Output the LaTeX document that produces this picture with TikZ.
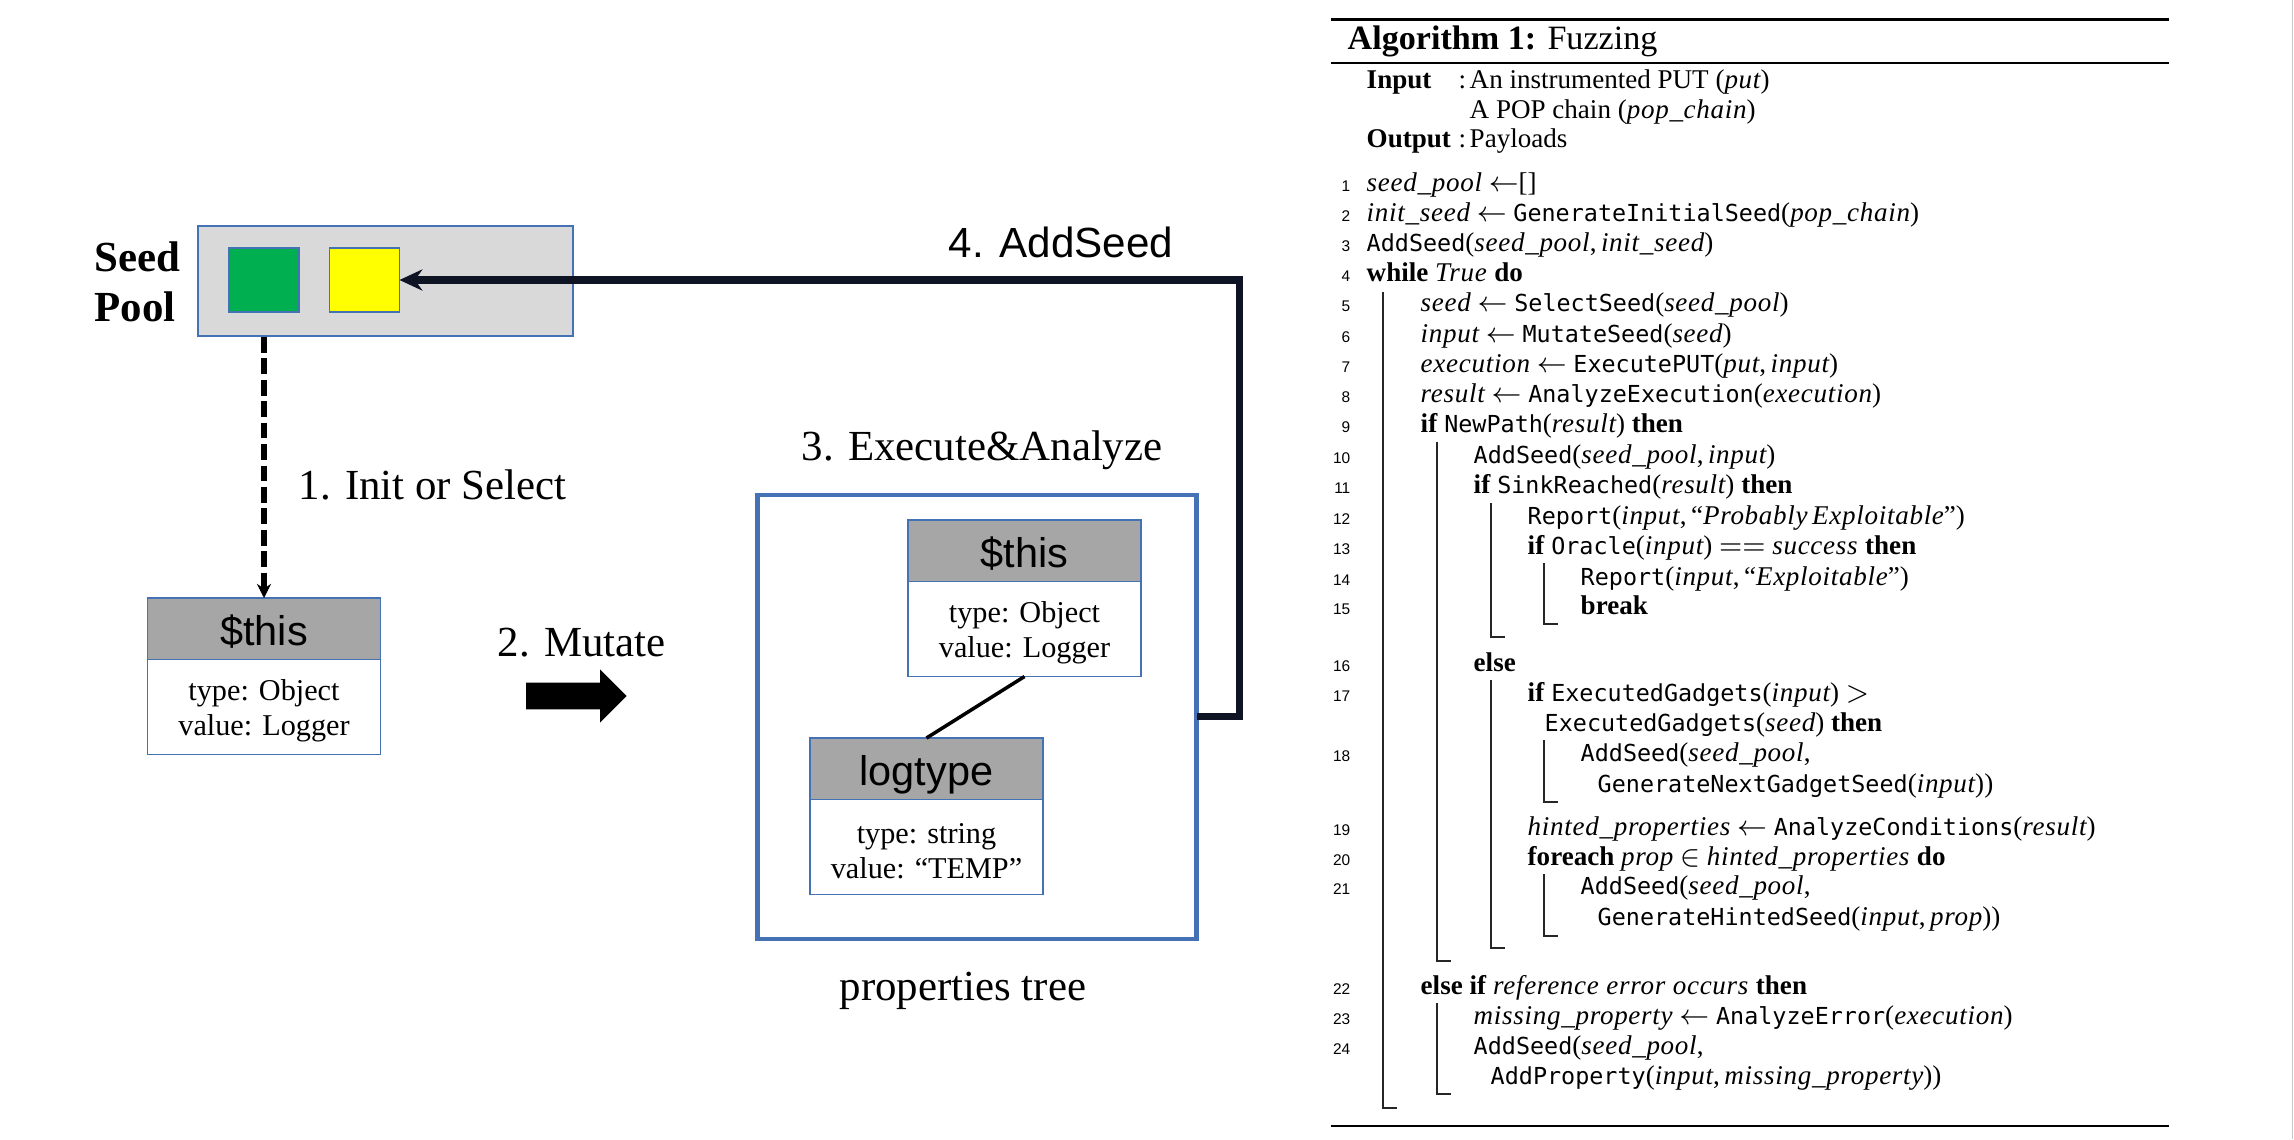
\documentclass[tikz,border=0pt]{standalone}
\usepackage{fontspec}
\setmainfont{Liberation Serif}
\newfontfamily\arialfont{Liberation Sans}
\newfontfamily\algttfamily{DejaVu Sans Mono}[Scale=0.865]
\newfontfamily\algitfamily{Liberation Serif}[LetterSpace=2.6]
\usetikzlibrary{positioning,arrows.meta}

\definecolor{boxblue}{RGB}{68,114,180}
\definecolor{hdrgray}{RGB}{166,166,166}
\definecolor{poolgray}{RGB}{217,217,217}
\definecolor{seedgreen}{RGB}{0,176,80}
\definecolor{seedyellow}{RGB}{255,255,0}
\definecolor{navy}{RGB}{14,20,36}

\newcommand{\algfont}{\fontsize{7.7}{9}\selectfont}
\newcommand{\algfn}[1]{{\algttfamily #1}}
\newcommand{\algkw}[1]{\textbf{#1}}
\newcommand{\algvar}[1]{{\algitfamily\itshape #1}}
\newcommand{\objtext}[2]{\rule{0pt}{8.1pt}#1\\#2}

\tikzstyle{poolbox} = [rectangle, minimum width=37.5mm, minimum height=11mm, fill=poolgray, draw=boxblue, line width=0.5pt]
\tikzstyle{seedbox} = [rectangle, minimum width=7mm, minimum height=6.4mm, draw=boxblue, line width=0.5pt, outer sep=0pt]
\tikzstyle{header} = [rectangle, minimum width=23.3mm, minimum height=6.15mm, fill=hdrgray, draw=boxblue, line width=0.5pt, outer sep=0pt, text height=9.3pt, text depth=0pt, font=\arialfont\fontsize{11.8}{14}\selectfont]
\tikzstyle{body} = [rectangle, minimum width=23.3mm, minimum height=9.5mm, fill=white, draw=boxblue, line width=0.5pt, outer sep=0pt, align=center, font=\fontsize{8.6}{9.7}\selectfont]
\tikzstyle{treebox} = [rectangle, minimum width=43.9mm, minimum height=44.4mm, draw=boxblue, line width=1.2pt, outer sep=0pt]
\tikzstyle{steptext} = [anchor=base west, inner sep=0pt, font=\fontsize{12.2}{14}\selectfont]
\tikzstyle{arrow} = [line width=2pt, draw=navy, -{Stealth[length=6.5pt,width=6pt]}]
\tikzstyle{dasharrow} = [line width=1.5pt, dash pattern=on 4.5pt off 1.6pt, -{Stealth[length=4pt,width=4pt]}]
\tikzstyle{treeline} = [line width=1pt]
\tikzstyle{algline} = [anchor=base west, inner sep=0pt, font=\algfont]
\tikzstyle{lineno} = [anchor=base east, inner sep=0pt, font=\arialfont\fontsize{4.4}{5}\selectfont]
\tikzstyle{algbar} = [line width=0.45pt, draw=black!85]

\begin{document}
\begin{tikzpicture}[x=0.1mm, y=-0.1mm]
		\useasboundingbox (0,0) rectangle (2294,1139);
		\draw [black!22, line width=0.45pt] (2292.5,0) -- (2292.5,1139);

		% seed pool
		\node (pool) [poolbox] at (385.5,281) {};
		\node (seed1) [seedbox, fill=seedgreen] at (264,280) {};
		\node (seed2) [seedbox, fill=seedyellow, right=3.05mm of seed1] {};
		\node (poolname) [anchor=west, inner sep=0pt, align=left, font=\bfseries\fontsize{12.2}{14.2}\selectfont] at (94,282) {Seed\\Pool};

		% selected seed
		\node (this1) [header] at (264,628.75) {\$this};
		\node (body1) [body, below=0pt of this1] {\objtext{type: Object}{value: Logger}};

		% properties tree
		\node (tree) [treebox] at (977,716.85) {};
		\node (this2) [header] at (1024.5,550.75) {\$this};
		\node (body2) [body, below=0pt of this2] {\objtext{type: Object}{value: Logger}};
		\node (log) [header] at (926.5,768.75) {logtype};
		\node (body3) [body, below=0pt of log] {\objtext{type: string}{value: “TEMP”}};

		\node (step1) [steptext] at (298,499) {1. Init or Select};
		\node (step2) [steptext] at (497,656.7) {2. Mutate};
		\node (step3) [steptext] at (801,460) {3. Execute\&Analyze};
		\node (step4) [steptext, font=\arialfont\fontsize{12}{14}\selectfont] at (948,257) {4. AddSeed};
		\node (treename) [steptext] at (839,1000) {properties tree};

		\fill (526,682.7) -- (600,682.7) -- (600,669.3) -- (626.7,696) -- (600,722.7) -- (600,709.3) -- (526,709.3) -- cycle;

		\draw [dasharrow] (seed1 |- pool.south) -- (this1);
		\draw [treeline] (body2.south) -- (log.north);
		\draw [arrow] (tree.east) -- ++(43,0) |- (seed2.east);

		% algorithm
		\draw [line width=0.85pt] (1331,19.2) -- (2169,19.2);
		\node (algtitle) [anchor=base west, inner sep=0pt, font=\fontsize{9.7}{11}\selectfont] at (1347,49.3) {\textbf{Algorithm 1:} Fuzzing};
		\draw [line width=0.65pt] (1331,62.8) -- (2169,62.8);

		\node (inlbl) [algline] at (1366,88.3) {\textbf{Input}};
		\node (incol) [algline] at (1458,88.3) {:};
		\node (in1) [algline] at (1469,88.3) {An instrumented PUT (\algvar{put})};
		\node (in2) [algline] at (1469,118.3) {A POP chain (\algvar{pop\_chain})};
		\node (outlbl) [algline] at (1366,147.7) {\textbf{Output}};
		\node (outcol) [algline] at (1458,147.7) {:};
		\node (out1) [algline] at (1469,147.7) {Payloads};

		\foreach \n/\y in {1/191.5,2/221,3/251,4/281,5/311.5,6/342,7/372,8/402.5,9/432.5,10/463,11/493.5,12/524,13/554,14/585,15/614.5,16/671,17/701,18/761.5,19/835,20/865,21/894.5,22/994,23/1024,24/1054}
			\node (n\n) [lineno] at (1351,\y) {\n};

		\node (l1) [algline] at (1366,191.5) {\algvar{seed\_pool} $\leftarrow$[]};
		\node (l2) [algline] at (1366,221) {\algvar{init\_seed} $\leftarrow$ \algfn{GenerateInitialSeed}(\algvar{pop\_chain})};
		\node (l3) [algline] at (1366,251) {\algfn{AddSeed}(\algvar{seed\_pool},\,\algvar{init\_seed})};
		\node (l4) [algline] at (1366,281) {\algkw{while} \algvar{True} \algkw{do}};
		\node (l5) [algline] at (1420,311.5) {\algvar{seed} $\leftarrow$ \algfn{SelectSeed}(\algvar{seed\_pool})};
		\node (l6) [algline] at (1420,342) {\algvar{input} $\leftarrow$ \algfn{MutateSeed}(\algvar{seed})};
		\node (l7) [algline] at (1420,372) {\algvar{execution} $\leftarrow$ \algfn{ExecutePUT}(\algvar{put},\,\algvar{input})};
		\node (l8) [algline] at (1420,402.5) {\algvar{result} $\leftarrow$ \algfn{AnalyzeExecution}(\algvar{execution})};
		\node (l9) [algline] at (1420,432.5) {\algkw{if} \algfn{NewPath}(\algvar{result}) \algkw{then}};
		\node (l10) [algline] at (1473,463) {\algfn{AddSeed}(\algvar{seed\_pool},\,\algvar{input})};
		\node (l11) [algline] at (1473,493.5) {\algkw{if} \algfn{SinkReached}(\algvar{result}) \algkw{then}};
		\node (l12) [algline] at (1527,524) {\algfn{Report}(\algvar{input},\,“\algvar{Probably\,Exploitable}”)};
		\node (l13) [algline] at (1527,554) {\algkw{if} \algfn{Oracle}(\algvar{input}) $==$ \algvar{success} \algkw{then}};
		\node (l14) [algline] at (1580,585) {\algfn{Report}(\algvar{input},\,“\algvar{Exploitable}”)};
		\node (l15) [algline] at (1580,614.5) {\algkw{break}};
		\node (l16) [algline] at (1473,671) {\algkw{else}};
		\node (l17) [algline] at (1527,701) {\algkw{if} \algfn{ExecutedGadgets}(\algvar{input}) $>$};
		\node (l17b) [algline] at (1544,731) {\algfn{ExecutedGadgets}(\algvar{seed}) \algkw{then}};
		\node (l18) [algline] at (1580,761.5) {\algfn{AddSeed}(\algvar{seed\_pool},};
		\node (l18b) [algline] at (1597,792) {\algfn{GenerateNextGadgetSeed}(\algvar{input}))};
		\node (l19) [algline] at (1527,835) {\algvar{hinted\_properties} $\leftarrow$ \algfn{AnalyzeConditions}(\algvar{result})};
		\node (l20) [algline] at (1527,865) {\algkw{foreach} \algvar{prop} $\in$ \algvar{hinted\_properties} \algkw{do}};
		\node (l21) [algline] at (1580,894.5) {\algfn{AddSeed}(\algvar{seed\_pool},};
		\node (l21b) [algline] at (1597,925.5) {\algfn{GenerateHintedSeed}(\algvar{input},\,\algvar{prop}))};
		\node (l22) [algline] at (1420,994) {\algkw{else if} \algvar{reference error occurs} \algkw{then}};
		\node (l23) [algline] at (1473,1024) {\algvar{missing\_property} $\leftarrow$ \algfn{AnalyzeError}(\algvar{execution})};
		\node (l24) [algline] at (1473,1054) {\algfn{AddSeed}(\algvar{seed\_pool},};
		\node (l24b) [algline] at (1490,1084) {\algfn{AddProperty}(\algvar{input},\,\algvar{missing\_property}))};

		\foreach \x/\a/\b in {1383/292/1108, 1437/442/961, 1491/503/637, 1544/563/624, 1491/680/948, 1544/740/802, 1544/874/936, 1437/1003/1094}
			\draw [algbar] (\x,\a) -- (\x,\b) -- ++(14,0);

		\draw [line width=0.4pt] (1331,1126) -- (2169,1126);
	\end{tikzpicture}
\end{document}
